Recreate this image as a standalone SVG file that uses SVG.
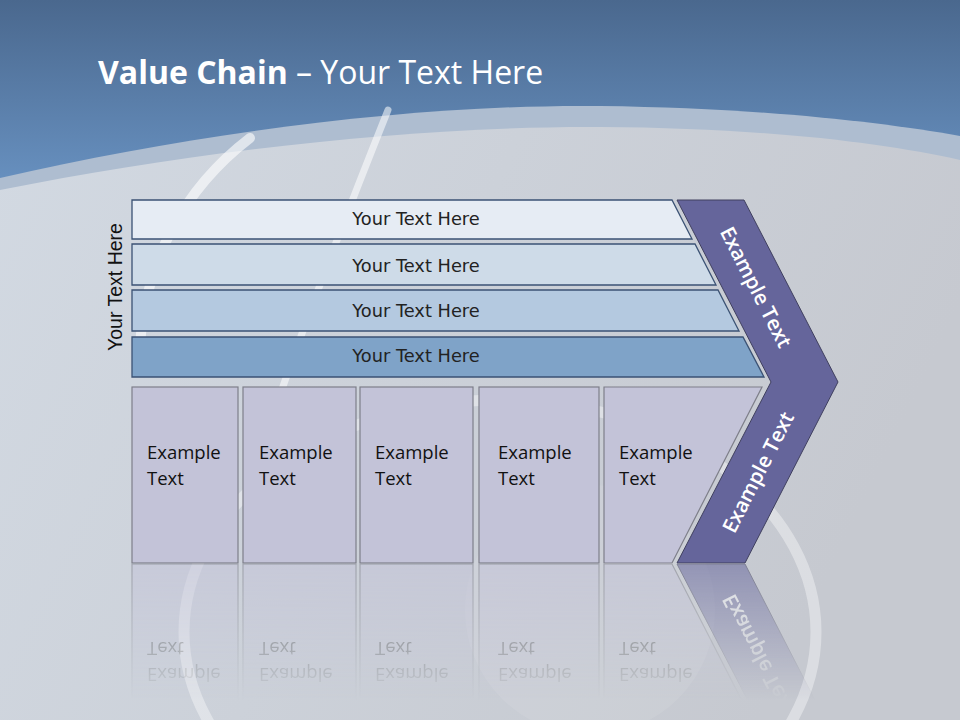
<svg xmlns="http://www.w3.org/2000/svg" xmlns:xlink="http://www.w3.org/1999/xlink" width="960" height="720" viewBox="0 0 960 720">
<defs>
<linearGradient id="sky" x1="0" y1="0" x2="0" y2="1">
<stop offset="0" stop-color="#4a688e"/>
<stop offset="1" stop-color="#6a94c4"/>
</linearGradient>
<linearGradient id="ground" x1="0" y1="0" x2="1" y2="0.3">
<stop offset="0" stop-color="#d2d9e2"/>
<stop offset="0.5" stop-color="#ccd1d9"/>
<stop offset="1" stop-color="#c6c9d0"/>
</linearGradient>
<linearGradient id="fadeGrad" gradientUnits="userSpaceOnUse" x1="0" y1="564" x2="0" y2="700">
<stop offset="0" stop-color="#fff" stop-opacity="0.55"/>
<stop offset="1" stop-color="#fff" stop-opacity="0"/>
</linearGradient>
<mask id="fade" maskUnits="userSpaceOnUse" x="0" y="564" width="960" height="156">
<rect x="0" y="564" width="960" height="156" fill="url(#fadeGrad)"/>
</mask>
<style>
.bar{stroke:#3b5274;stroke-width:1.3}
.bartext{font-family:"DejaVu Sans",sans-serif;font-size:17.8px;fill:#222;text-anchor:middle}
.box{fill:#c3c3d8;stroke:#7e7f8a;stroke-width:1.2}
.boxtext{font-family:"Open Sans","Liberation Sans",sans-serif;font-size:18.5px;fill:#111}
.chev{fill:#65659b;stroke:#40405f;stroke-width:1}
.chevtext{font-family:"Open Sans","Liberation Sans",sans-serif;font-size:20.5px;font-weight:600;fill:#fff;text-anchor:middle}
.deco{fill:none;stroke:#ffffff;stroke-linecap:round}
</style>
</defs>

<!-- background -->
<rect x="0" y="0" width="960" height="720" fill="url(#ground)"/>
<rect x="0" y="0" width="960" height="200" fill="url(#sky)"/>
<path d="M0,178 C200,132 420,104 600,106 C760,108 880,122 960,136 L960,720 L0,720 Z" fill="#aebdd0"/>
<path d="M0,190 C200,150 420,126 600,127 C760,128 880,142 960,160 L960,720 L0,720 Z" fill="url(#ground)"/>
<path class="deco" d="M140,345 C146,262 182,190 250,138" stroke-width="10" stroke-opacity="0.6"/>
<path class="deco" d="M388,110 C352,200 305,320 268,430" stroke-width="7" stroke-opacity="0.55"/>
<ellipse cx="500" cy="632" rx="316" ry="232" class="deco" stroke-width="11" stroke-opacity="0.38"/>
<circle cx="590" cy="610" r="125" fill="#ffffff" fill-opacity="0.08"/>

<!-- title -->
<g id="title">
<text x="98" y="84" font-family="'Open Sans','Liberation Sans',sans-serif" font-size="32" fill="#ffffff"><tspan font-weight="bold">Value Chain</tspan> – Your Text Here</text>
</g>

<g id="connectors"></g>

<g id="label-left">
<text transform="translate(122,287) rotate(-90)" font-family="'Liberation Sans',Arial,sans-serif" font-size="19.5" fill="#111" text-anchor="middle">Your Text Here</text>
</g>

<g id="bars">
<g id="bar1">
<polygon class="bar" points="132,200 672,200 692,239 132,239" fill="#e6ecf4"/>
<text class="bartext" x="416" y="225">Your Text Here</text>
</g>
<g id="bar2">
<polygon class="bar" points="132,244 695,244 716,285 132,285" fill="#cedbe8"/>
<text class="bartext" x="416" y="272">Your Text Here</text>
</g>
<g id="bar3">
<polygon class="bar" points="132,290 718,290 739,331 132,331" fill="#b4c9e0"/>
<text class="bartext" x="416" y="317">Your Text Here</text>
</g>
<g id="bar4">
<polygon class="bar" points="132,337 743,337 764,377 132,377" fill="#7fa3c8"/>
<text class="bartext" x="416" y="362">Your Text Here</text>
</g>
</g>

<g id="mainrow">
<g id="boxes">
<g id="box1">
<rect class="box" x="132" y="387" width="106" height="176"/>
<text class="boxtext" x="147" y="459">Example</text>
<text class="boxtext" x="147" y="485">Text</text>
</g>
<g id="box2">
<rect class="box" x="243" y="387" width="113" height="176"/>
<text class="boxtext" x="259" y="459">Example</text>
<text class="boxtext" x="259" y="485">Text</text>
</g>
<g id="box3">
<rect class="box" x="360" y="387" width="113" height="176"/>
<text class="boxtext" x="375" y="459">Example</text>
<text class="boxtext" x="375" y="485">Text</text>
</g>
<g id="box4">
<rect class="box" x="479" y="387" width="120" height="176"/>
<text class="boxtext" x="498" y="459">Example</text>
<text class="boxtext" x="498" y="485">Text</text>
</g>
<g id="box5">
<polygon class="box" points="604,387 762,387 672,563 604,563"/>
<text class="boxtext" x="619" y="459">Example</text>
<text class="boxtext" x="619" y="485">Text</text>
</g>
</g>
<g id="chevron">
<polygon class="chev" points="677,200 744,200 838,382 745,563 677,563 771,382"/>
<text class="chevtext" transform="translate(749.5,290.5) rotate(63)">Example Text</text>
<text class="chevtext" transform="translate(764.5,475.5) rotate(-63)">Example Text</text>
</g>
</g>

<!-- reflection -->
<g id="reflection" mask="url(#fade)">
<g transform="matrix(1 0 0 -1 0 1127)">
<use xlink:href="#mainrow"/>
</g>
</g>
</svg>
